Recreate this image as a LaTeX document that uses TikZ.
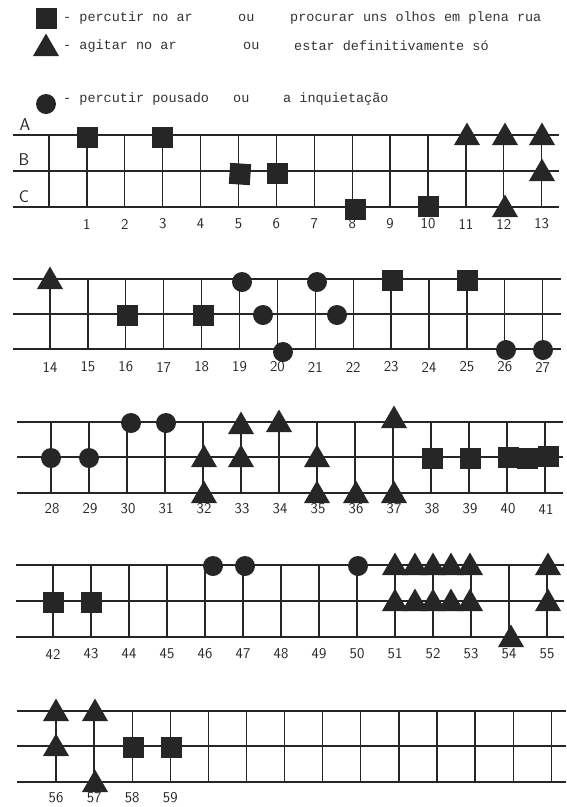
\documentclass[tikz,border=0pt]{standalone}
\usepackage{fontspec}
\newfontfamily\typefont{Liberation Mono}
\usetikzlibrary{shapes.geometric}

\begin{document}
\begin{tikzpicture}[
  x=1pt, y=-1pt,
  sq/.style={rectangle, fill=black!85, minimum size=21pt, inner sep=0pt},
  tri/.style={regular polygon, regular polygon sides=3, fill=black!85,
    minimum size=30pt, inner sep=0pt, yshift=-2.5pt},
  dot/.style={circle, fill=black!85, minimum size=20pt, inner sep=0pt},
  num/.style={font=\sffamily\fontsize{15}{15}\selectfont, inner sep=0pt, black!85},
  abc/.style={font=\sffamily\fontsize{17}{17}\selectfont, inner sep=0pt, black!85},
  legend/.style={font=\typefont\fontsize{13.5}{13.5}\selectfont, anchor=west,
    inner sep=0pt, black!80},
  staffline/.style={line width=1.3pt, black!85}
]
  \useasboundingbox (0,0) rectangle (566,807);

  % Legend
  \node (keysq)  [sq]  at (46,18) {};
  \node (key1a)  [legend] at (63,18)  {- percutir no ar};
  \node (key1b)  [legend] at (238,18) {ou};
  \node (key1c)  [legend] at (290,18) {procurar uns olhos em plena rua};
  \node (keytri) [tri] at (46,46) {};
  \node (key2a)  [legend] at (63,46)  {- agitar no ar};
  \node (key2b)  [legend] at (243,46) {ou};
  \node (key2c)  [legend] at (294,46) {estar definitivamente só};
  \node (keydot) [dot] at (46,104) {};
  \node (key3a)  [legend] at (63,99)  {- percutir pousado};
  \node (key3b)  [legend] at (233,99) {ou};
  \node (key3c)  [legend] at (283,99) {a inquietação};

  % Staff 1
  \foreach \y in {135,171,207}
    \draw[staffline] (13,\y) -- (559,\y);
  \foreach \i in {0,...,13}
    \draw[staffline] ({49+37.9*\i},135) -- ({49+37.9*\i},207);
  \foreach \i in {1,...,13}
    \node (n\i) [num] at ({49+37.9*\i},224) {\i};
  \node (labA) [abc] at (25,125) {A};
  \node (labB) [abc] at (24,160) {B};
  \node (labC) [abc] at (24,197) {C};

  \node (s1)  [sq]  at (87,137)  {};
  \node (s3)  [sq]  at (162,137) {};
  \node (s5)  [sq, rotate=-4] at (240,174) {};
  \node (s6)  [sq]  at (277,173) {};
  \node (s8)  [sq]  at (355,209) {};
  \node (s10) [sq]  at (428,206) {};
  \node (t11) [tri] at (467,135) {};
  \node (t12) [tri] at (505,135) {};
  \node (t12c)[tri] at (505,207) {};
  \node (t13) [tri] at (542,135) {};
  \node (t13b)[tri] at (542,171) {};

  % Staff 2
  \foreach \y in {279,314,349}
    \draw[staffline] (13,\y) -- (561,\y);
  \foreach \i [evaluate=\i as \k using int(14+\i)] in {0,...,13} {
    \draw[staffline] ({50+37.9*\i},279) -- ({50+37.9*\i},349);
    \node (n\k) [num] at ({50+37.9*\i},367) {\k};
  }

  \node (t14) [tri] at (50,279)  {};
  \node (s16) [sq]  at (127,315) {};
  \node (s18) [sq]  at (203,315) {};
  \node (d19) [dot] at (242,282) {};
  \node (d19b)[dot] at (263,315) {};
  \node (d20) [dot] at (283,352) {};
  \node (d21) [dot] at (317,282) {};
  \node (d21b)[dot] at (337,315) {};
  \node (s23) [sq]  at (392,280) {};
  \node (s25) [sq]  at (467,280) {};
  \node (d26) [dot] at (506,350) {};
  \node (d27) [dot] at (543,350) {};

  % Staff 3
  \foreach \y in {422,457,493}
    \draw[staffline] (17,\y) -- (563,\y);
  \foreach \i [evaluate=\i as \k using int(28+\i)] in {0,...,13} {
    \draw[staffline] ({51+38*\i},422) -- ({51+38*\i},493);
    \node (n\k) [num] at ({52+38*\i},509) {\k};
  }

  \node (d28) [dot] at (51,458)  {};
  \node (d29) [dot] at (89,458)  {};
  \node (d30) [dot] at (131,423) {};
  \node (d31) [dot] at (166,423) {};
  \node (t32) [tri] at (204,457) {};
  \node (t32c)[tri] at (204,493) {};
  \node (t33) [tri] at (241,424) {};
  \node (t33b)[tri] at (241,457) {};
  \node (t34) [tri] at (279,422) {};
  \node (t35) [tri] at (317,457) {};
  \node (t35c)[tri] at (317,493) {};
  \node (t36) [tri] at (356,493) {};
  \node (t37) [tri] at (394,418) {};
  \node (t37c)[tri] at (394,493) {};
  \node (s38) [sq]  at (432,458) {};
  \node (s39) [sq]  at (470,458) {};
  \node (s40) [sq]  at (508,457) {};
  \node (s40b)[sq]  at (527,458) {};
  \node (s41) [sq]  at (548,456) {};

  % Staff 4
  \foreach \y in {565,601,637}
    \draw[staffline] (16,\y) -- (564,\y);
  \foreach \i [evaluate=\i as \k using int(42+\i)] in {0,...,13} {
    \draw[staffline] ({53+38*\i},565) -- ({53+38*\i},637);
    \node (n\k) [num] at ({53+38*\i},654) {\k};
  }

  \node (s42) [sq]  at (53,602)  {};
  \node (s43) [sq]  at (91,602)  {};
  \node (d46) [dot] at (213,566) {};
  \node (d47) [dot] at (245,566) {};
  \node (d50) [dot] at (358,566) {};
  \foreach \x [count=\j] in {395,415,433,451,470} {
    \node (t51a\j) [tri] at (\x,565) {};
    \node (t51b\j) [tri] at (\x,601) {};
  }
  \node (t54) [tri] at (511,637) {};
  \node (t55) [tri] at (548,565) {};
  \node (t55b)[tri] at (548,601) {};

  % Staff 5
  \foreach \y in {711,746,782}
    \draw[staffline] (17,\y) -- (566,\y);
  \foreach \i in {0,...,13}
    \draw[staffline] ({56+38.1*\i},711) -- ({56+38.1*\i},782);
  \foreach \i [evaluate=\i as \k using int(56+\i)] in {0,...,3}
    \node (n\k) [num] at ({56+38.1*\i},798) {\k};

  \node (t56) [tri] at (56,711)  {};
  \node (t56b)[tri] at (56,746)  {};
  \node (t57) [tri] at (95,711)  {};
  \node (t57c)[tri] at (95,782)  {};
  \node (s58) [sq]  at (133,747) {};
  \node (s59) [sq]  at (171,747) {};

\end{tikzpicture}
\end{document}
